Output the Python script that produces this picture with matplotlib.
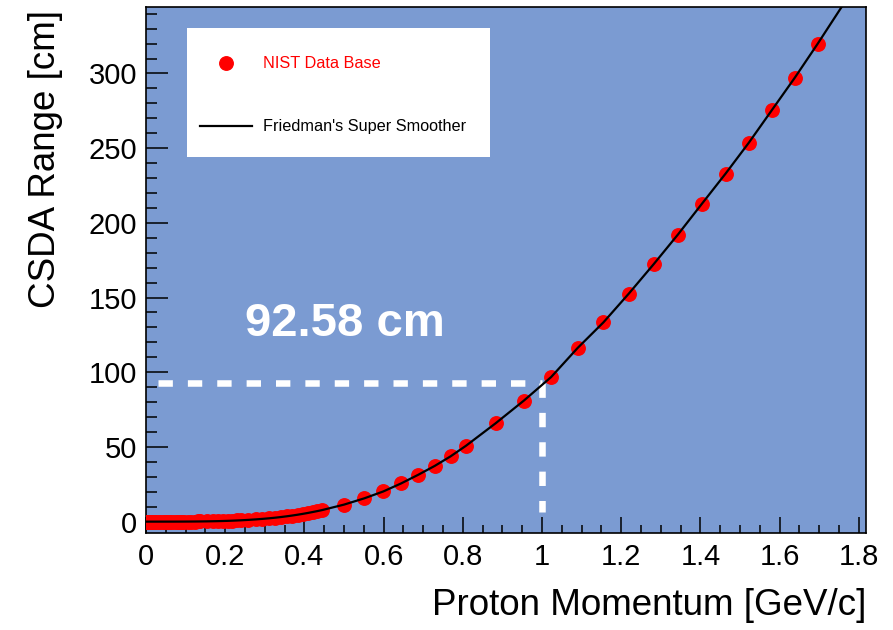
import matplotlib
matplotlib.use('Agg')
import matplotlib.pyplot as plt
from matplotlib.patches import Rectangle

plt.rcParams['font.family'] = ['Liberation Sans', 'DejaVu Sans']

# NIST data base points (proton momentum GeV/c, CSDA range cm)
p_low = [0.0014, 0.0019, 0.0031, 0.0043, 0.0061, 0.0097, 0.0137, 0.0194, 0.0237,
         0.0306, 0.0362, 0.0433, 0.0484, 0.0531, 0.0573, 0.0613, 0.0685, 0.0751,
         0.0811, 0.0867, 0.0920, 0.0970, 0.1063, 0.1148, 0.1228, 0.1303, 0.1374,
         0.1537, 0.1684, 0.1821, 0.1948, 0.2067, 0.2180, 0.2288, 0.2392, 0.2587,
         0.2769, 0.2941, 0.3104, 0.3259, 0.3409, 0.3552, 0.3691, 0.3826, 0.3956,
         0.4083, 0.4207, 0.4328, 0.4445]
r_low = [0.00001, 0.00002, 0.00003, 0.00004, 0.00006, 0.0001, 0.00014, 0.00026, 0.00041,
         0.0008, 0.0014, 0.0025, 0.0036, 0.0047, 0.0061, 0.0076, 0.0109, 0.0145,
         0.0188, 0.0236, 0.0297, 0.0362, 0.0500, 0.066, 0.083, 0.103, 0.123,
         0.183, 0.253, 0.333, 0.426, 0.526, 0.636, 0.756, 0.885, 1.17,
         1.49, 1.84, 2.22, 2.63, 3.08, 3.56, 4.08, 4.62, 5.19,
         5.79, 6.42, 7.06, 7.72]
p_high = [0.5001, 0.5513, 0.5991, 0.6443, 0.6876, 0.7290, 0.7690, 0.8080, 0.8826,
          0.9540, 1.0230, 1.0900, 1.1550, 1.2189, 1.2814, 1.3428, 1.4034, 1.4632,
          1.5222, 1.5806, 1.6385, 1.6959]
r_high = [11.4, 15.6, 20.2, 25.6, 31.4, 37.3, 43.7, 50.8, 65.8,
          81.0, 96.8, 116.3, 133.4, 152.6, 172.2, 192.1, 212.7, 232.9,
          253.7, 275.6, 297.3, 319.9]

# smoother continues past the last data point
p_ext = [1.76, 1.80]
r_ext = [346.0, 363.5]

# range read at 1 GeV/c
p_mark = 1.0
r_mark = 92.58

p_data = p_low + p_high
r_data = r_low + r_high

fig = plt.figure(figsize=(8.93, 6.30), dpi=100)
ax = fig.add_axes([0.1635, 0.154, 0.8063, 0.8349])
ax.set_facecolor('#7b9bd2')

# dashed guide lines
ax.plot([0.03, p_mark], [r_mark, r_mark], color='white', lw=4.7, dashes=(2.2, 2.3), zorder=2)
ax.plot([p_mark, p_mark], [r_mark, 6.5], color='white', lw=4.7, dashes=(2.2, 2.3), zorder=2)

ax.plot(p_data, r_data, 'o', color='red', ms=9.7, mec='red', label='NIST Data Base', zorder=3)
ax.plot(p_data + p_ext, r_data + r_ext, color='black', lw=1.6,
        label="Friedman's Super Smoother", zorder=4)

ax.text(0.5025, 132, '92.58 cm', color='white', fontsize=34, fontweight='bold',
        ha='center', va='center')

ax.set_xlim(0, 1.818)
ax.set_ylim(-7.6, 344.5)
ax.set_xticks([0, 0.2, 0.4, 0.6, 0.8, 1, 1.2, 1.4, 1.6, 1.8])
ax.set_xticklabels(['0', '0.2', '0.4', '0.6', '0.8', '1', '1.2', '1.4', '1.6', '1.8'])
ax.set_xticks([i * 0.05 for i in range(37)], minor=True)
ax.set_yticks([0, 50, 100, 150, 200, 250, 300])
ax.set_yticks(list(range(0, 341, 10)), minor=True)

ax.tick_params(axis='both', which='both', direction='in', width=1.1, colors='black',
               labelsize=21, top=False, right=False)
ax.tick_params(axis='y', which='major', length=15.5, pad=6.5)
ax.tick_params(axis='y', which='minor', length=7.8)
ax.tick_params(axis='x', which='major', length=11.4, pad=7)
ax.tick_params(axis='x', which='minor', length=5.7)
for s in ax.spines.values():
    s.set_linewidth(1.2)

ax.set_xlabel('Proton Momentum [GeV/c]', fontsize=26.5, loc='right')
ax.xaxis.set_label_coords(1.0, -0.105)
ax.set_ylabel('CSDA Range [cm]', fontsize=26.5, loc='top')
ax.yaxis.set_label_coords(-0.115, 0.994)

# white legend box (ROOT TLegend style)
ax.add_patch(Rectangle((0.0569, 0.7148), 0.4208, 0.2453, transform=ax.transAxes,
                       facecolor='white', edgecolor='none', zorder=5))
leg = ax.legend(loc='upper left', bbox_to_anchor=(0.0356, 0.9601),
                fontsize=11.7, frameon=False, borderpad=1.75, labelspacing=2.95,
                handlelength=3.2, handletextpad=0.67, borderaxespad=0)
leg.set_zorder(6)
for t, c in zip(leg.get_texts(), ['red', 'black']):
    t.set_color(c)

fig.savefig('out.png', dpi=100)
